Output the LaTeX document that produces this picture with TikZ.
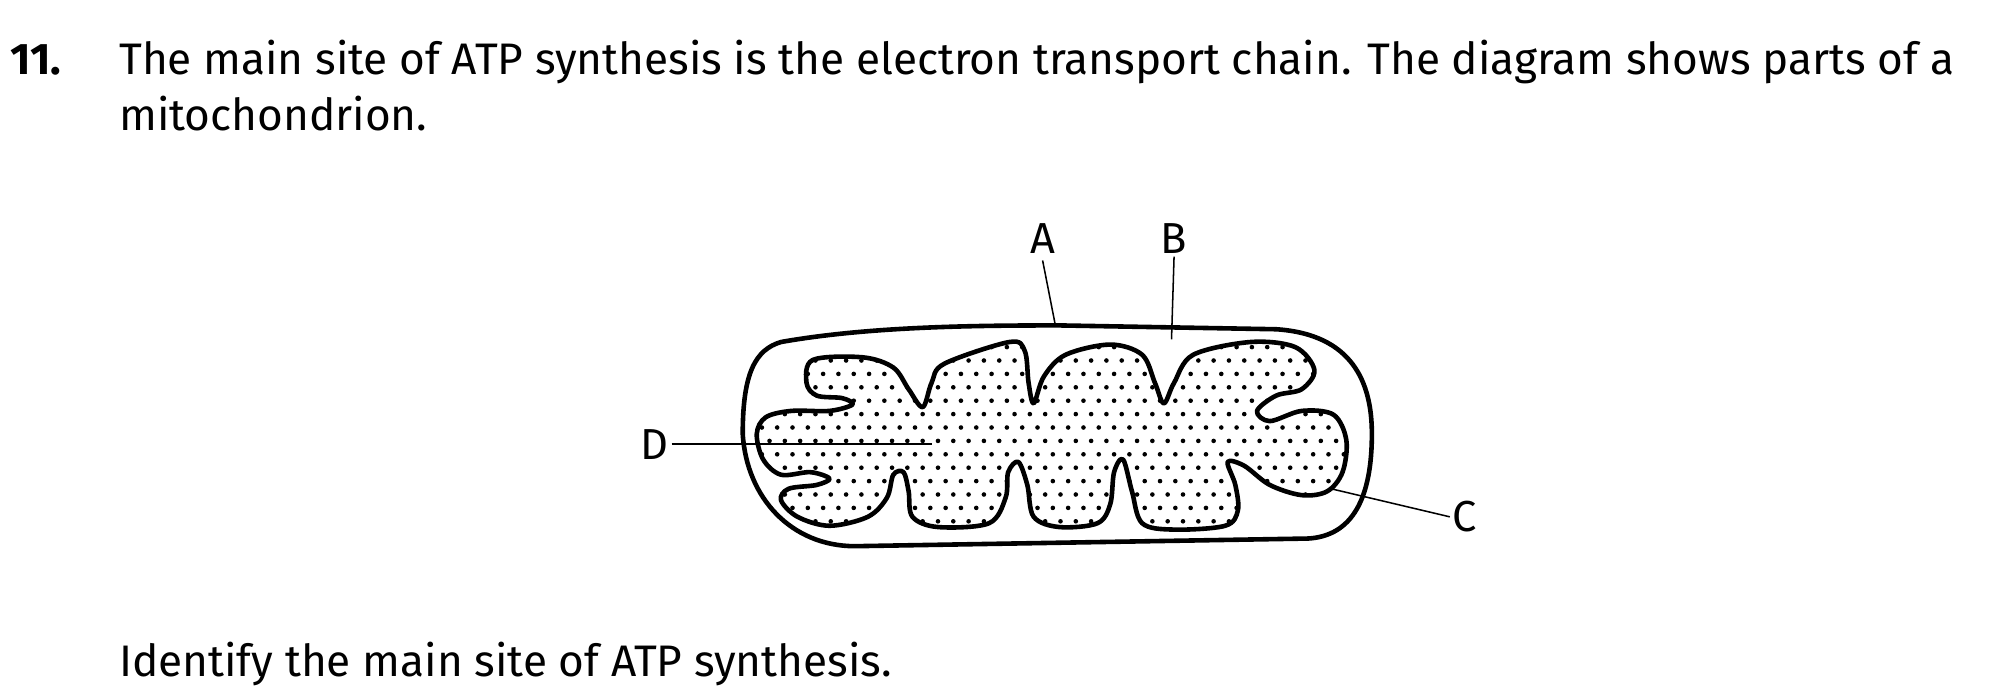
\documentclass[tikz,border=0pt]{standalone}
\usepackage{fontspec}
\setmainfont{Fira Sans}
\usepackage{tikz}
\tikzset{
  txt/.style={anchor=base west,inner sep=0pt,font=\fontsize{17.3}{21}\selectfont},
  lbl/.style={inner sep=1pt,font=\fontsize{17}{20}\selectfont},
  membrane/.style={line width=1.8pt,line join=round},
  pointer/.style={line width=0.6pt}
}
\begin{document}
\begin{tikzpicture}[x=0.5pt,y=-0.5pt]
        \useasboundingbox (0,0) rectangle (1568,539);
        % question text
        \node[txt,font=\fontsize{17.3}{21}\selectfont\bfseries] (num) at (8,58) {11.};
        \node[txt] (line1) at (93,58) {The main site of ATP synthesis is the electron transport chain. The diagram shows parts of a};
        \node[txt] (line2) at (93,102) {mitochondrion.};
        \node[txt] (ask) at (93,530) {Identify the main site of ATP synthesis.};
        % outer membrane
        \draw[membrane] (612,268) .. controls (680,256) and (760,255) .. (830,255) -- (1000,258)
            .. controls (1060,262) and (1075,300) .. (1075,340) .. controls (1075,390) and (1060,420) .. (1025,422)
            -- (670,428) .. controls (620,428) and (585,390) .. (582,340) .. controls (582,292) and (592,274) .. cycle;
        % inner membrane with dotted matrix
        \def\innerpath{plot[smooth cycle,tension=0.55] coordinates {
            (637,282) (676,280) (700,288) (712,305) (723,319) (730,300) (740,285) (791,268) (803,275) (806,300)
            (810,316) (818,295) (835,278) (870,270) (895,278) (905,300) (912,316) (920,300) (935,278) (980,268)
            (1015,272) (1030,290) (1020,305) (1000,310) (985,322) (995,330) (1020,322) (1045,325) (1055,345)
            (1052,370) (1040,385) (1020,388) (995,380) (975,365) (962,362) (968,380) (970,400) (960,412)
            (920,415) (895,410) (887,385) (880,360) (873,370) (870,395) (860,410) (830,413) (810,405) (805,380)
            (798,362) (790,370) (788,390) (775,410) (735,413) (715,405) (712,385) (708,370) (700,372) (695,390)
            (680,405) (650,412) (625,405) (612,392) (618,383) (640,380) (650,375) (635,370) (612,372) (598,360)
            (593,340) (600,327) (620,322) (650,322) (668,317) (660,312) (640,310) (632,300)}}
        \begin{scope}
          \clip \innerpath;
          \foreach \r in {0,...,14} {
            \foreach \c in {0,...,40} {
              \fill ({585+\c*12+mod(\r,2)*6},{272+\r*10.5}) circle (1.8);
            }
          }
        \end{scope}
        \draw[membrane] \innerpath;
        % labels
        \node[lbl] (A) at (817,187) {A};
        \node[lbl] (B) at (920,187) {B};
        \node[lbl] (C) at (1148,405) {C};
        \node[lbl] (D) at (513,348) {D};
        \coordinate (Aend) at (827,255);
        \coordinate (Bend) at (918,266);
        \coordinate (Cend) at (1043,383);
        \coordinate (Dend) at (730,348);
        \draw[pointer] (A.south) ++(0,3) -- (Aend);
        \draw[pointer] (B.south) -- (Bend);
        \draw[pointer] (C.west) -- (Cend);
        \draw[pointer] (D.east) -- (Dend);
\end{tikzpicture}
\end{document}
